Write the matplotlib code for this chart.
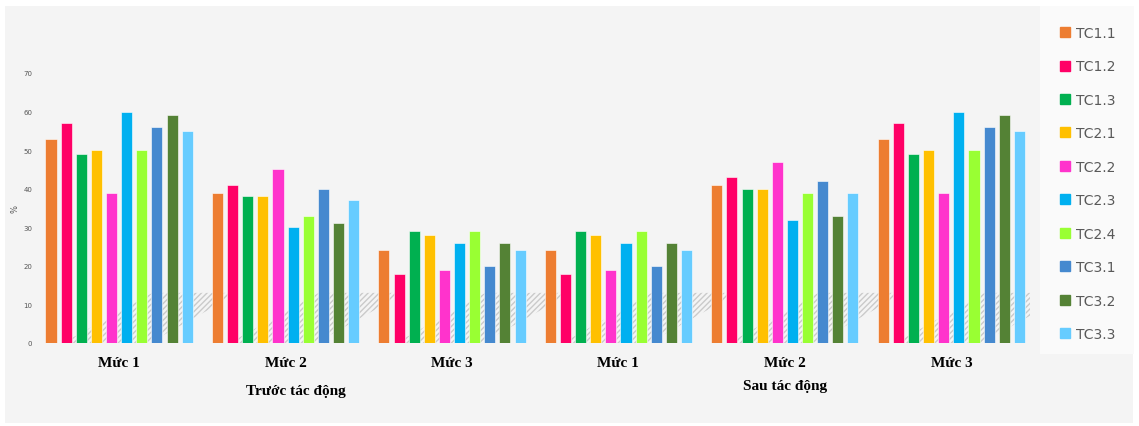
import matplotlib
matplotlib.use('Agg')
import matplotlib.pyplot as plt
import numpy as np
from matplotlib.patches import Polygon, Rectangle
from matplotlib.lines import Line2D

# data
series = ['TC1.1', 'TC1.2', 'TC1.3', 'TC2.1', 'TC2.2', 'TC2.3', 'TC2.4', 'TC3.1', 'TC3.2', 'TC3.3']
colors = ['#ED7D31', '#FF0066', '#00B050', '#FFC000', '#FF33CC', '#00B0F0', '#99FF33', '#4589CF', '#548235', '#66CCFF']
groups = ['Mức 1', 'Mức 2', 'Mức 3', 'Mức 1', 'Mức 2', 'Mức 3']
phases = ['Trước tác động', 'Sau tác động']

truoc_muc1 = [53, 57, 49, 50, 39, 60, 50, 56, 59, 55]
truoc_muc2 = [39, 41, 38, 38, 45, 30, 33, 40, 31, 37]
truoc_muc3 = [24, 18, 29, 28, 19, 26, 29, 20, 26, 24]
sau_muc1 = [24, 18, 29, 28, 19, 26, 29, 20, 26, 24]
sau_muc2 = [41, 43, 40, 40, 47, 32, 39, 42, 33, 39]
sau_muc3 = [53, 57, 49, 50, 39, 60, 50, 56, 59, 55]
values = [truoc_muc1, truoc_muc2, truoc_muc3, sau_muc1, sau_muc2, sau_muc3]

fig = plt.figure(figsize=(11.39, 4.27), dpi=100, facecolor='white')
W, H = 1139, 427

# background panels
fig.patches.append(Rectangle((5 / W, 3 / H), 1128 / W, 417 / H, transform=fig.transFigure,
                             facecolor='#f4f4f4', edgecolor='none', zorder=-10))
fig.patches.append(Rectangle((1040 / W, 72 / H), 94 / W, 348 / H, transform=fig.transFigure,
                             facecolor='#fafafa', edgecolor='none', zorder=-9))

ax = fig.add_axes([38 / W, 1 - 344 / H, (1030 - 38) / W, (344 - 74) / H])
ax.set_facecolor('none')

gap = 11
for g, vals in enumerate(values):
    g0 = g * gap
    # slanted floor shadow
    shadow = Polygon([(g0 + 0.8, 0), (g0 + 6.5, 0), (g0 + 12.4, 13), (g0 + 6.7, 13)],
                     closed=True, fill=False, hatch='//////', edgecolor='#c6c6c6',
                     linewidth=0, alpha=0.9, zorder=1)
    ax.add_patch(shadow)
    x = g0 + np.arange(len(series))
    ax.bar(x, vals, width=0.73, color=colors, edgecolor='white', linewidth=0.4, zorder=3)

centers = [g * gap + 4.5 for g in range(len(groups))]
for c, lab in zip(centers, groups):
    ax.text(c, -5.0, lab, ha='center', va='center', fontsize=11, fontweight='bold',
            family='Liberation Serif', color='black')
ax.text(centers[1] + 0.7, -12.3, phases[0], ha='center', va='center', fontsize=11,
        fontweight='bold', family='Liberation Serif', color='black')
ax.text(centers[4], -11.1, phases[1], ha='center', va='center', fontsize=11,
        fontweight='bold', family='Liberation Serif', color='black')

ax.set_xlim(-0.86, 64.7)
ax.set_ylim(0, 70)
ax.set_yticks(np.arange(0, 71, 10))
ax.tick_params(axis='y', length=0, labelsize=5, labelcolor='#555555', pad=4)
ax.set_xticks([])
for s in ax.spines.values():
    s.set_visible(False)
ax.set_ylabel('%', fontsize=6, color='#555555', labelpad=3)

handles = [Line2D([0], [0], marker='s', linestyle='none', markersize=7,
                  markerfacecolor=c, markeredgecolor=c) for c in colors]
fig.legend(handles, series, loc='upper left', bbox_to_anchor=(1052 / W, 1 - 20 / H),
           frameon=False, fontsize=10, labelcolor='#595959', handlelength=0.8,
           handletextpad=0.4, labelspacing=1.4, borderpad=0)

fig.savefig('out.png', dpi=100, facecolor='white')
